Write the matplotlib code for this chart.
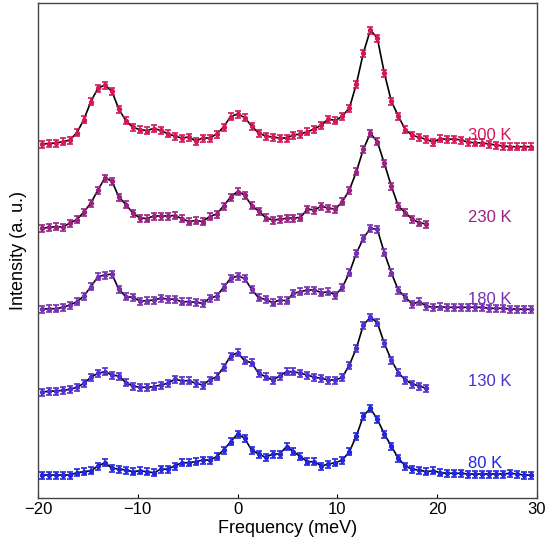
import numpy as np
import matplotlib
matplotlib.use("Agg")
import matplotlib.pyplot as plt

plt.rcParams['font.family'] = ['Liberation Sans', 'DejaVu Sans']

# energy grid (meV), 0.7 meV steps
freq = np.round(np.arange(-28, 43) * 0.7, 1)

temps = ['80 K', '130 K', '180 K', '230 K', '300 K']
colors = ['#2326e0', '#4f2fd0', '#7630b0', '#9a2282', '#d3175a']
offsets = [0, 80, 160, 240, 320]
label_dy = [35, 37, 39, 41, 42]

i_80 = [23, 23, 23, 23, 23, 25.3, 26.3, 27.3, 32, 35.3,
        29.7, 29, 28, 26.3, 27.3, 26.3, 25.3, 28.7, 29, 32,
        35.3, 35.3, 36.3, 38, 38, 41.3, 48, 56.3, 64, 59.7,
        48, 44, 40.7, 44, 44, 51.3, 46.3, 41.3, 36.3, 36.3,
        32, 34, 35.3, 38, 46.3, 62, 82, 89.7, 78.7, 64,
        52, 39.7, 32, 28.7, 28, 26.3, 27.3, 25.3, 24.7, 24.7,
        24.7, 24, 24, 24, 24, 24, 24, 24.7, 24, 23, 23]

i_130 = [26, 26.7, 27, 27.7, 28.7, 30.7, 34.7, 40.7, 44.7, 46.3,
         43, 42, 35.3, 32, 30.7, 30.7, 31.3, 33, 34.7, 38.7,
         37.3, 37.3, 34.7, 33, 38, 41.3, 50.7, 62, 65.3, 57.3,
         55.3, 44.7, 41.3, 38, 42, 46.3, 46.3, 44.7, 43, 40.7,
         39.7, 38, 38, 40.7, 53, 69.7, 93, 100.7, 95.3, 74.7,
         58, 45.3, 38, 34, 32, 29.7]

i_180 = [28.7, 29.3, 29.3, 30.7, 33, 36.3, 42, 51.3, 61.3, 63,
         64, 48.7, 41.3, 40.7, 37, 37.3, 38, 39.7, 39, 38.7,
         36.3, 36.3, 35.7, 34.7, 39.7, 42, 50.7, 59.7, 62, 59.7,
         48.7, 40.3, 38.7, 35.3, 38, 37.3, 44.7, 46.3, 48, 48,
         45.3, 46.3, 43, 50.7, 65.3, 84.7, 99.7, 109.7, 108.7, 85.3,
         65.3, 48, 40.7, 34, 36.3, 32, 30.7, 31.3, 30.7, 30.7,
         30.7, 30.7, 30.7, 30.7, 29.7, 29.7, 29.7, 29, 29, 28.7, 28.7]

i_230 = [29.7, 30.7, 31.3, 31, 35, 38.5, 46, 55, 68, 80,
         77, 61, 53.5, 45, 40, 39.5, 42, 42, 42, 42.5,
         39.5, 36.5, 37.5, 36.5, 41.5, 44, 52, 61, 66.5, 63,
         52.5, 47, 40.5, 38, 38.7, 39.7, 40, 40.5, 49, 48,
         52, 49.7, 49, 56.3, 68, 86.3, 108.7, 124.7, 116.3, 94.7,
         72, 52, 45.3, 38.7, 35.3, 34]

i_300 = [34, 34.5, 35, 36.3, 38, 45.4, 58.5, 76.5, 89.7, 93,
         86.7, 69, 57.2, 50.7, 48.4, 47.5, 49.5, 47.6, 44.2, 42,
         40, 41, 37, 40, 40, 44, 51, 61.5, 64, 60.5,
         52, 45, 42, 41, 40, 40, 43, 44, 46.3, 49,
         53, 59, 57.5, 62, 70, 94, 125, 148, 140, 105,
         77, 62, 48.4, 42.6, 40.7, 38.6, 36, 39.3, 38.7, 39,
         38, 35.8, 35.3, 35.1, 34, 33, 32, 31.3, 31.3, 31.3, 31.3]

series = [i_80, i_130, i_180, i_230, i_300]

fig = plt.figure(figsize=(5.48, 5.48), dpi=100)
ax = fig.add_axes([38 / 548, 50 / 548, 499 / 548, 495 / 548])

for temp, col, off, dy, vals in zip(temps, colors, offsets, label_dy, series):
    x = freq[:len(vals)]
    y = np.array(vals) + off
    ax.plot(x, y, color='black', lw=1.2, zorder=2)
    ax.errorbar(x, y, yerr=3.5, fmt='o', ms=2.8, color=col, ecolor=col,
                elinewidth=1.2, capsize=2.2, capthick=1.2, zorder=3)
    ax.text(23.1, off + dy, temp, color=col, fontsize=12, va='center', ha='left')

ax.set_xlim(-20, 30)
ax.set_ylim(0, 495)
ax.set_xticks([-20, -10, 0, 10, 20, 30])
ax.set_yticks([])
ax.tick_params(axis='x', direction='in', length=3, labelsize=12, pad=3)
for s in ax.spines.values():
    s.set_color('#444444')
    s.set_linewidth(1.0)
ax.set_xlabel('Frequency (meV)', fontsize=13, labelpad=2)
ax.set_ylabel('Intensity (a. u.)', fontsize=13, labelpad=8)

fig.savefig('out.png', dpi=100)
